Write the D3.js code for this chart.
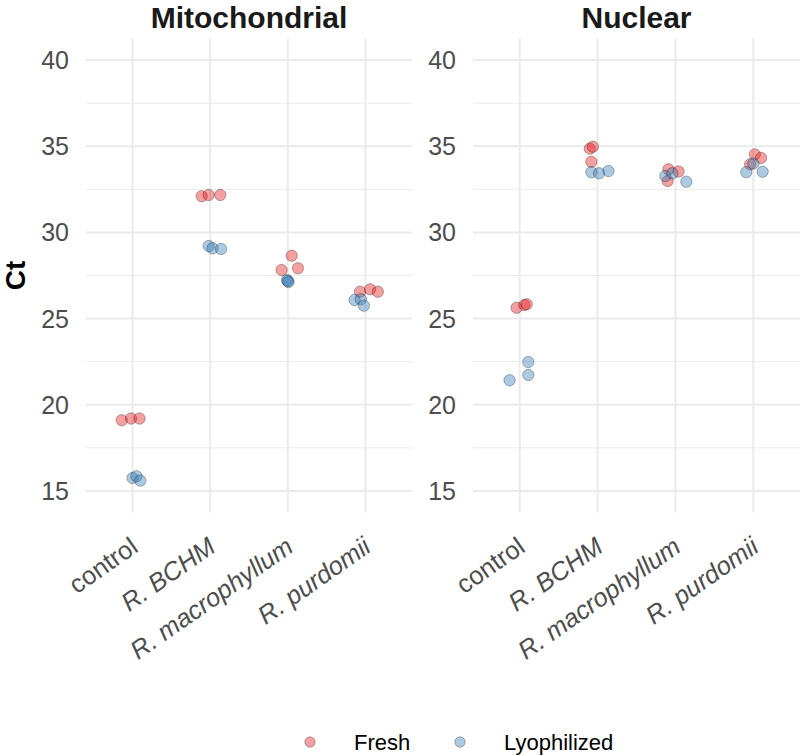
<!DOCTYPE html>
<html><head><meta charset="utf-8">
<script src="https://cdn.jsdelivr.net/npm/d3@7"></script>
<style>body{margin:0;background:#fff;}</style>
</head><body>
<svg id="chart" width="800" height="756"></svg>
<script>
const panels = ["Mitochondrial", "Nuclear"];
const categories = ["control", "R. BCHM", "R. macrophyllum", "R. purdomii"];
const treatments = ["Fresh", "Lyophilized"];
const yTicks = [15, 20, 25, 30, 35, 40];
// Ct values: [panel][category] -> 3 replicates
const mitoFresh = [[19.1, 19.2, 19.2], [32.1, 32.17, 32.17], [28.65, 27.82, 27.92], [26.56, 26.7, 26.56]];
const mitoLyo   = [[15.75, 15.85, 15.6], [29.21, 29.08, 29.04], [27.24, 27.12, 27.18], [26.08, 26.12, 25.75]];
const nucFresh  = [[25.63, 25.79, 25.83], [34.86, 34.97, 34.1], [33.66, 33.53, 32.98], [34.53, 34.32, 33.95]];
const nucLyo    = [[22.48, 21.73, 21.42], [33.49, 33.43, 33.56], [33.27, 33.43, 32.94], [34.0, 33.49, 33.52]];
// horizontal jitter (category units)
const mitoFreshJit = [[-0.14, -0.02, 0.09], [-0.11, -0.02, 0.13], [0.05, -0.08, 0.13], [-0.07, 0.06, 0.16]];
const mitoLyoJit   = [[0.0, 0.05, 0.1], [-0.02, 0.03, 0.14], [-0.01, 0.01, 0.0], [-0.14, -0.06, -0.02]];
const nucFreshJit  = [[-0.04, 0.06, 0.09], [-0.1, -0.06, -0.08], [-0.09, 0.04, -0.1], [0.02, 0.1, -0.04]];
const nucLyoJit    = [[0.11, 0.11, -0.13], [-0.08, 0.02, 0.14], [-0.13, -0.04, 0.14], [0.0, -0.09, 0.12]];

const colors = {Fresh: "#E41A1C", Lyophilized: "#377EB8"};

const svg = d3.select("#chart");
const font = "'Liberation Sans', Arial, sans-serif";
const pTop = 38.5, pBottom = 512.5;
const panelX = [[86, 412], [473, 800]];
const y = d3.scaleLinear().domain([13.75, 41.25]).range([pBottom, pTop]);

const sets = [
  [[mitoFresh, mitoFreshJit, "Fresh"], [mitoLyo, mitoLyoJit, "Lyophilized"]],
  [[nucFresh, nucFreshJit, "Fresh"], [nucLyo, nucLyoJit, "Lyophilized"]]
];

panels.forEach((p, pi) => {
  const [x0, x1] = panelX[pi];
  const x = d3.scalePoint().domain(categories).range([x0, x1]).padding(0.6);
  const step = x.step();
  const g = svg.append("g");
  const minor = d3.range(yTicks.length - 1).map(i => (yTicks[i] + yTicks[i+1]) / 2);
  g.selectAll(".minor").data(minor).enter().append("line")
    .attr("x1", x0).attr("x2", x1).attr("y1", d => y(d)).attr("y2", d => y(d))
    .attr("stroke", "#ebebeb").attr("stroke-width", 1);
  g.selectAll(".major").data(yTicks).enter().append("line")
    .attr("x1", x0).attr("x2", x1).attr("y1", d => y(d)).attr("y2", d => y(d))
    .attr("stroke", "#ebebeb").attr("stroke-width", 2);
  g.selectAll(".vmajor").data(categories).enter().append("line")
    .attr("x1", d => x(d)).attr("x2", d => x(d)).attr("y1", pTop).attr("y2", pBottom)
    .attr("stroke", "#ebebeb").attr("stroke-width", 2);
  g.selectAll(".ylab").data(yTicks).enter().append("text")
    .attr("x", x0 - 17).attr("y", d => y(d)).attr("dy", "0.36em")
    .attr("text-anchor", "end").attr("font-family", font).attr("font-size", 25)
    .attr("fill", "#4d4d4d").text(d => d);
  g.selectAll(".xlab").data(categories).enter().append("text")
    .attr("transform", d => `translate(${x(d) + 7},${pBottom + 38}) rotate(-35)`)
    .attr("text-anchor", "end")
    .attr("font-family", font).attr("font-size", 25.5)
    .attr("font-style", d => d === "control" ? "normal" : "italic")
    .attr("fill", "#4d4d4d").text(d => d);
  g.append("text").attr("x", (x0 + x1) / 2).attr("y", 28)
    .attr("text-anchor", "middle").attr("font-family", font).attr("font-weight", "bold")
    .attr("font-size", 30).attr("fill", "#1a1a1a").text(p);
  sets[pi].forEach(([vals, jit, t]) => {
    const pts = [];
    categories.forEach((c, ci) => vals[ci].forEach((v, k) => pts.push({c, v, j: jit[ci][k]})));
    g.selectAll(null).data(pts).enter().append("circle")
      .attr("cx", d => x(d.c) + d.j * step).attr("cy", d => y(d.v)).attr("r", 5.7)
      .attr("fill", colors[t]).attr("fill-opacity", 0.42)
      .attr("stroke", "#000").attr("stroke-opacity", 0.4).attr("stroke-width", 0.7);
  });
});

svg.append("text").attr("transform", `translate(25,${(pTop + pBottom) / 2}) rotate(-90)`)
  .attr("text-anchor", "middle").attr("font-family", font).attr("font-weight", "bold")
  .attr("font-size", 28).attr("fill", "#000").text("Ct");

const legX = [310, 460];
treatments.forEach((t, i) => {
  svg.append("circle").attr("cx", legX[i]).attr("cy", 742).attr("r", 5.2)
    .attr("fill", colors[t]).attr("fill-opacity", 0.42)
    .attr("stroke", "#000").attr("stroke-opacity", 0.4).attr("stroke-width", 0.7);
  svg.append("text").attr("x", legX[i] + 44).attr("y", 742).attr("dy", "0.36em")
    .attr("font-family", font).attr("font-size", 22).attr("fill", "#000").text(t);
});
</script>
</body></html>
